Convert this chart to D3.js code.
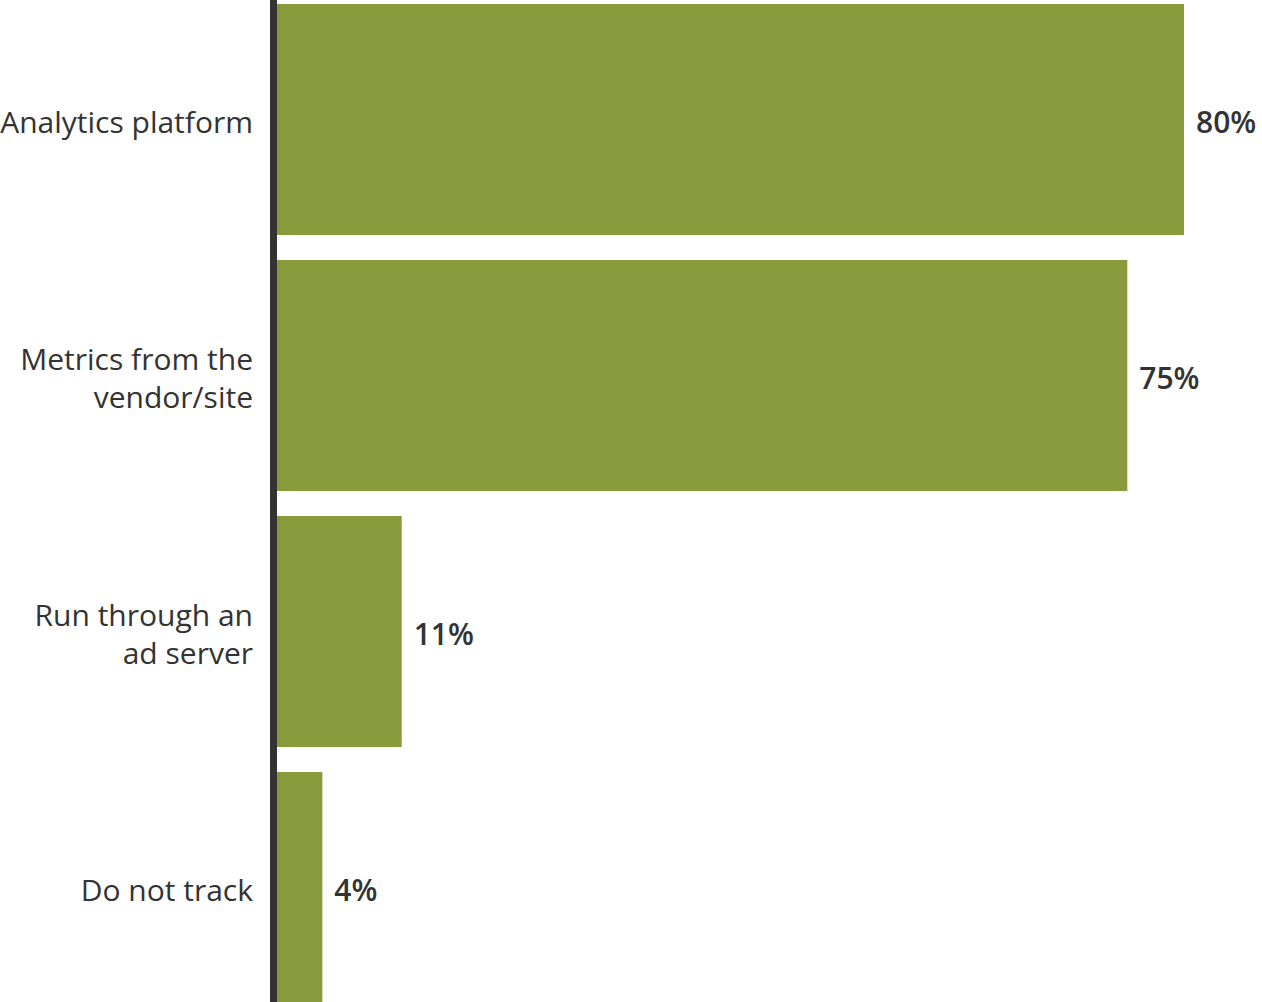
<!DOCTYPE html>
<html>
<head>
<meta charset="utf-8">
<script src="https://cdn.jsdelivr.net/npm/d3@7"></script>
<style>
  html, body { margin: 0; padding: 0; background: #fff; }
  svg { display: block; }
  text { font-family: "Open Sans", Lato, sans-serif; fill: #333; }
</style>
</head>
<body>
<svg id="chart" width="1262" height="1002"></svg>
<script>
// Tracking method survey responses (share of respondents)
const categories = ["Analytics platform", "Metrics from the vendor/site", "Run through an ad server", "Do not track"];
const labelLines = [["Analytics platform"], ["Metrics from the", "vendor/site"], ["Run through an", "ad server"], ["Do not track"]];
const values = [80, 75, 11, 4];

const W = 1262, H = 1002;
const axisX = 273.5;   // centre of the dark baseline
const barLeft = 277;

const svg = d3.select("#chart");

const x = d3.scaleLinear().domain([0, 80]).range([barLeft, 1184]);
const y = d3.scaleBand().domain(categories)
  .range([-8.5, 1015.5]).paddingInner(25 / 256).paddingOuter(25 / 512);

// Bars
svg.append("g").selectAll("rect")
  .data(values)
  .join("rect")
  .attr("x", x(0))
  .attr("y", (d, i) => y(categories[i]))
  .attr("width", d => x(d) - x(0))
  .attr("height", y.bandwidth())
  .attr("fill", "#879b3c");

// Baseline
svg.append("line")
  .attr("x1", axisX).attr("x2", axisX)
  .attr("y1", 0).attr("y2", H)
  .attr("stroke", "#333").attr("stroke-width", 7);

// Category labels (right aligned, possibly two lines)
const lineH = 38;
const catG = svg.append("g");
labelLines.forEach((lines, i) => {
  const cy = y(categories[i]) + y.bandwidth() / 2 + 3;
  const t = catG.append("text")
    .attr("x", 253)
    .attr("text-anchor", "end")
    .attr("font-size", 30);
  lines.forEach((ln, j) => {
    t.append("tspan")
      .attr("x", 253)
      .attr("y", cy + (j - (lines.length - 1) / 2) * lineH)
      .attr("dy", "0.35em")
      .text(ln);
  });
});

// Value labels
svg.append("g").selectAll("text")
  .data(values)
  .join("text")
  .attr("x", d => x(d) + 12)
  .attr("y", (d, i) => y(categories[i]) + y.bandwidth() / 2 + 3)
  .attr("dy", "0.35em")
  .attr("font-size", 30)
  .attr("font-weight", 600)
  .text(d => d + "%");
</script>
</body>
</html>
